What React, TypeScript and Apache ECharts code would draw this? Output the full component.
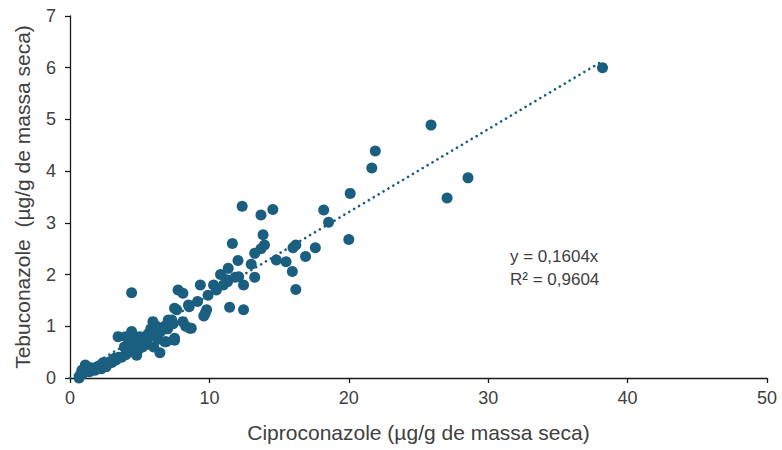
import React, { useEffect, useRef } from "react";
import * as echarts from "echarts";

// Ciproconazole (x) vs Tebuconazole (y), µg/g de massa seca
const ciproconazole: number[] = [
  38.2, 25.9, 21.9, 21.65, 20.1, 28.55, 27.05, 20.0, 18.55, 18.2,
  12.35, 13.7, 14.55, 13.85, 13.95, 11.65, 13.25, 13.7, 12.05, 13.0,
  11.35, 11.25, 11.85, 12.45, 13.25, 14.8, 15.5, 15.95, 16.2, 16.0,
  16.9, 17.6, 16.2, 11.3, 12.1, 11.45, 12.45, 10.5, 11.0, 10.8,
  7.75, 8.1, 9.35, 10.3, 9.9, 7.5, 8.55, 9.15, 9.7, 9.8,
  9.6, 7.05, 8.1, 8.7, 8.3, 5.95, 5.95, 6.8, 7.5, 6.45,
  6.2, 5.6, 5.3, 5.5, 5.0, 4.6, 4.42, 3.45, 4.42, 4.0,
  4.8, 5.2, 4.4, 4.0, 3.7, 3.3, 2.8, 2.4, 2.6, 2.25,
  1.5, 1.1, 0.85, 0.7, 0.65, 1.0, 1.4, 1.8, 2.0, 3.0,
  3.5, 4.2, 5.7, 6.0, 6.5, 7.0, 7.4, 6.8, 7.5, 5.8,
  5.1, 4.9, 3.9, 2.2, 1.2, 0.9, 2.9, 3.2, 4.5, 6.3,
  7.3, 7.65, 8.5, 5.5, 5.0, 4.78, 8.6, 6.9,
];
const tebuconazole: number[] = [
  6.0, 4.89, 4.39, 4.06, 3.57, 3.87, 3.48, 2.68, 3.01, 3.25,
  3.32, 3.15, 3.26, 2.77, 2.57, 2.6, 2.41, 2.5, 2.27, 2.2,
  2.12, 1.9, 1.95, 1.8, 1.95, 2.28, 2.25, 2.06, 2.57, 2.52,
  2.35, 2.52, 1.71, 1.86, 1.96, 1.37, 1.32, 1.7, 1.8, 2.0,
  1.7, 1.64, 1.8, 1.8, 1.6, 1.35, 1.38, 1.48, 1.25, 1.32,
  1.2, 1.12, 1.09, 0.96, 1.0, 1.09, 0.9, 0.7, 0.77, 0.49,
  1.0, 0.85, 0.75, 0.65, 0.62, 0.55, 1.65, 0.8, 0.9, 0.8,
  0.78, 0.6, 0.7, 0.45, 0.4, 0.35, 0.3, 0.3, 0.22, 0.18,
  0.2, 0.25, 0.15, 0.05, 0.0, 0.1, 0.12, 0.15, 0.22, 0.3,
  0.4, 0.5, 0.8, 0.6, 0.9, 0.95, 1.05, 1.0, 0.73, 0.95,
  0.7, 0.55, 0.6, 0.25, 0.15, 0.08, 0.32, 0.38, 0.62, 0.75,
  1.12, 1.32, 1.41, 0.67, 0.8, 0.44, 0.96, 0.7,
];

// Linear fit through the origin
const slope = 0.1604;
const rSquared = "0,9604";
const fitRange: number[] = [0, 38.2];

const xTicks = { min: 0, max: 50, interval: 10 };
const yTicks = { min: 0, max: 7, interval: 1 };

const pointColor = "#1b5f80";
const textColor = "#404040";
const axisColor = "#1a1a1a";
const font = "Liberation Sans, Arial, sans-serif";

export default function App() {
  const ref = useRef<HTMLDivElement>(null);

  useEffect(() => {
    if (!ref.current) return;
    const chart = echarts.init(ref.current, null, { renderer: "svg" });
    const points = ciproconazole.map((x, i) => [x, tebuconazole[i]]);
    const fit = fitRange.map((x) => [x, slope * x]);

    chart.setOption({
      animation: false,
      backgroundColor: "#ffffff",
      grid: { left: 70, right: 15, top: 16, bottom: 72 },
      xAxis: {
        type: "value",
        ...xTicks,
        name: "Ciproconazole (µg/g de massa seca)",
        nameLocation: "middle",
        nameGap: 44,
        nameTextStyle: { color: textColor, fontSize: 21, fontFamily: font },
        axisLine: { show: true, lineStyle: { color: axisColor, width: 1.3 } },
        axisTick: { show: true, length: 5, lineStyle: { color: axisColor, width: 1.3 } },
        axisLabel: { color: textColor, fontSize: 18, fontFamily: font, margin: 11 },
        splitLine: { show: false },
      },
      yAxis: {
        type: "value",
        ...yTicks,
        name: "Tebuconazole  (µg/g de massa seca)",
        nameLocation: "middle",
        nameGap: 37,
        nameTextStyle: { color: textColor, fontSize: 21, fontFamily: font },
        axisLine: { show: true, lineStyle: { color: axisColor, width: 1.3 } },
        axisTick: { show: true, length: 5, lineStyle: { color: axisColor, width: 1.3 } },
        axisLabel: { color: textColor, fontSize: 18, fontFamily: font, margin: 14 },
        splitLine: { show: false },
      },
      series: [
        {
          type: "line",
          data: fit,
          showSymbol: false,
          symbol: "none",
          silent: true,
          lineStyle: { color: pointColor, width: 2.6, type: [0.1, 5.6], cap: "round" },
          z: 1,
        },
        {
          type: "scatter",
          data: points,
          symbolSize: 11,
          itemStyle: { color: pointColor, opacity: 1 },
          z: 2,
        },
      ],
      graphic: [
        {
          type: "text",
          left: 510,
          top: 245,
          style: {
            text: `y = ${String(slope).replace(".", ",")}x\nR² = ${rSquared}`,
            fill: textColor,
            font: `17px ${font}`,
            lineHeight: 23,
          },
        },
      ],
    });

    return () => chart.dispose();
  }, []);

  return (
    <div
      ref={ref}
      style={{ position: "fixed", left: 0, top: 0, width: 782, height: 450 }}
    />
  );
}
